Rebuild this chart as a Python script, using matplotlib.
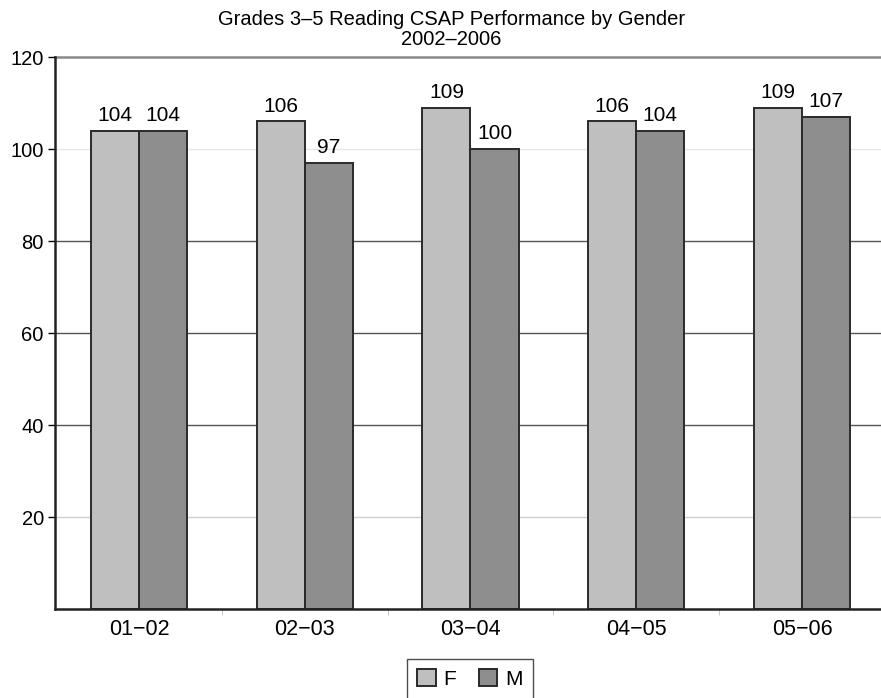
import numpy as np
import matplotlib
matplotlib.use('Agg')
import matplotlib.pyplot as plt

plt.rcParams['font.family'] = ['Liberation Sans', 'DejaVu Sans']

years = ['01\u221202', '02\u221203', '03\u221204', '04\u221205', '05\u221206']
female = [104, 106, 109, 106, 109]
male = [104, 97, 100, 104, 107]
y_ticks = [20, 40, 60, 80, 100, 120]

fig = plt.figure(figsize=(8.81, 6.98), dpi=100)
ax = fig.add_axes([0.0624, 0.1275, 0.9376, 0.7908])

x = np.arange(len(years))
w = 0.29

# grid lines (scanned look: some darker, some lighter)
grid_col = {20: '#d0d0d0', 40: '#555555', 60: '#555555', 80: '#555555', 100: '#e6e6e6', 120: '#8a8a8a'}
grid_lw = {20: 1.0, 40: 1.0, 60: 1.0, 80: 1.0, 100: 1.0, 120: 1.8}
for t in y_ticks:
    ax.axhline(t, color=grid_col[t], lw=grid_lw[t], zorder=0, clip_on=False)

bf = ax.bar(x - w / 2, female, w, color='#bfbfbf', edgecolor='#2a2a2a', lw=1.4, label='F', zorder=2)
bm = ax.bar(x + w / 2, male, w, color='#8e8e8e', edgecolor='#2a2a2a', lw=1.4, label='M', zorder=2)
ax.bar_label(bf, padding=4, fontsize=15)
ax.bar_label(bm, padding=4, fontsize=15)

ax.set_xlim(-0.507, 4.477)
ax.set_ylim(0, 120)
ax.set_yticks(y_ticks)
ax.set_xticks(x)
ax.set_xticklabels(years)
ax.set_xticks(x[:-1] + 0.5, minor=True)
ax.tick_params(axis='x', which='major', length=0, labelsize=15.5, pad=7)
ax.tick_params(axis='x', which='minor', length=4, color='#bbbbbb')
ax.tick_params(axis='y', length=5, width=1.0, labelsize=14.5, pad=3)

for s in ['top', 'right']:
    ax.spines[s].set_visible(False)
for s in ['left', 'bottom']:
    ax.spines[s].set_linewidth(1.8)
    ax.spines[s].set_color('#222222')

fig.text(0.512, 0.986, 'Grades 3\u20135 Reading CSAP Performance by Gender\n2002\u20132006',
         ha='center', va='top', fontsize=14.5, linespacing=1.1)

leg = ax.legend(loc='upper center', bbox_to_anchor=(0.502, -0.09), ncol=2, frameon=True,
                fancybox=False, edgecolor='#222222', fontsize=15, handlelength=0.9,
                handleheight=0.9, handletextpad=0.35, columnspacing=1.1, borderpad=0.5,
                borderaxespad=0)
leg.get_frame().set_linewidth(1.0)

fig.savefig('out.png', dpi=100)
